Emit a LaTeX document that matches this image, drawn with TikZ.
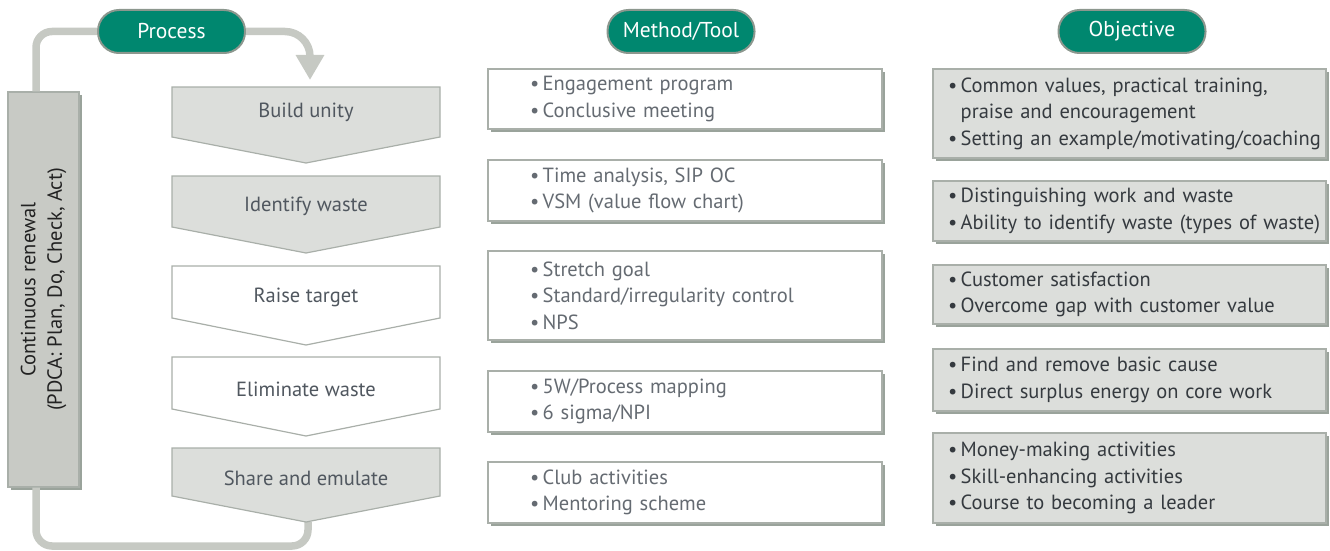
\documentclass[tikz,border=0pt]{standalone}
\usepackage{fontspec}
\setmainfont{PT Sans}
\usetikzlibrary{arrows.meta,shadows}

\definecolor{pillgreen}{HTML}{00876F}
\definecolor{pillrim}{HTML}{8C978E}
\definecolor{loopgray}{HTML}{C6C9C3}
\definecolor{renewgray}{HTML}{C8CAC5}
\definecolor{chevgray}{HTML}{DCDEDB}
\definecolor{chevrim}{HTML}{A9AFA9}
\definecolor{shadowgray}{HTML}{9AA39B}
\definecolor{chevink}{HTML}{50575F}
\definecolor{methink}{HTML}{656B72}
\definecolor{objink}{HTML}{353A3F}
\definecolor{renewink}{HTML}{222222}

\newcommand{\bul}[1]{\mbox{\textbullet\,#1}}
\newcommand{\bulcont}[1]{\mbox{\hphantom{\textbullet\,}#1}}

\tikzset{
  txt/.style={font=\fontsize{20.5}{26.5}\selectfont},
  pill/.style={font=\fontsize{21.5}{26}\selectfont, draw=pillrim, line width=2pt, fill=pillgreen, text=white,
    rounded corners=21pt, minimum width=147pt, minimum height=43pt},
  chev/.style={draw=chevrim, line width=1.2pt},
  chevtext/.style={txt, text=chevink},
  listbox/.style={txt, draw=chevrim, line width=1.2pt, align=left,
    general shadow={fill=shadowgray, shadow xshift=3pt, shadow yshift=-3pt}},
  methbox/.style={listbox, fill=white, text=methink, minimum width=394pt,
    text width=310pt, inner xsep=42pt},
  objbox/.style={listbox, fill=chevgray, text=objink, minimum width=393pt,
    text width=363pt, inner xsep=15pt},
  loopline/.style={draw=loopgray, line width=7.5pt, rounded corners=16pt},
}

\begin{document}
\begin{tikzpicture}[x=1pt, y=-1pt]
  \useasboundingbox (0,0) rectangle (1330,551);

  % headers
  \node[pill] (process) at (171.5,31.5) {Process};
  \node[pill] (method) at (681,31.5) {Method/Tool};
  \node[pill] (objective) at (1132,31.5) {Objective};

  % loop ends
  \coordinate (buildin) at (310,80);
  \coordinate (sharetip) at (308,522);

  % left box
  \node[draw=chevrim, line width=1.2pt, fill=renewgray, minimum width=71pt, minimum height=395pt,
    general shadow={fill=shadowgray, shadow xshift=3pt, shadow yshift=-3pt}] (renew) at (43.5,289.5) {};

  % loop
  \draw[loopline] ([xshift=-7.5pt]renew.north) |- (process.west);
  \draw[loopline, rounded corners=25pt, -{Triangle[length=25pt,width=27pt]}] (process.east) -| (buildin);
  \draw[loopline] ([xshift=-7.5pt]renew.south) |- ([yshift=-24pt]sharetip) -- (sharetip);

  \node[txt, text=renewink, rotate=90, align=center] (renewtext) at (renew.center)
    {Continuous renewal\\(PDCA: Plan, Do, Check, Act)};

  % process steps
  \draw[chev, fill=chevgray] (172,87) -- (440,87) -- (440,137) -- (306,163) -- (172,137) -- cycle;
  \node[chevtext] (build) at (306,112) {Build unity};
  \draw[chev, fill=chevgray] (172,176) -- (440,176) -- (440,227) -- (306,253) -- (172,227) -- cycle;
  \node[chevtext] (identify) at (306,206) {Identify waste};
  \draw[chev, fill=white] (172,266) -- (440,266) -- (440,318) -- (306,345) -- (172,318) -- cycle;
  \node[chevtext] (raise) at (306,297) {Raise target};
  \draw[chev, fill=white] (172,357) -- (440,357) -- (440,409) -- (306,436) -- (172,409) -- cycle;
  \node[chevtext] (eliminate) at (306,389) {Eliminate waste};
  \draw[chev, fill=chevgray] (172,448) -- (440,448) -- (440,496) -- (306,522) -- (172,496) -- cycle;
  \node[chevtext] (share) at (306,478) {Share and emulate};

  % methods
  \node[methbox, minimum height=60pt] (m1) at (685,99)
    {\bul{Engagement program}\\\bul{Conclusive meeting}};
  \node[methbox, minimum height=61pt] (m2) at (685,190.5)
    {\bul{Time analysis, SIP OC}\\\bul{VSM (value flow chart)}};
  \node[methbox, minimum height=89pt] (m3) at (685,295.5)
    {\bul{Stretch goal}\\\bul{Standard/irregularity control}\\\bul{NPS}};
  \node[methbox, minimum height=61pt] (m4) at (685,401.5)
    {\bul{5W/Process mapping}\\\bul{6 sigma/NPI}};
  \node[methbox, minimum height=61pt] (m5) at (685,492.5)
    {\bul{Club activities}\\\bul{Mentoring scheme}};

  % objectives
  \node[objbox, minimum height=89pt] (o1) at (1129.5,113.5)
    {\bul{Common values, practical training,}\\\bulcont{praise and encouragement}\\\bul{Setting an example/motivating/coaching}};
  \node[objbox, minimum height=60pt] (o2) at (1129.5,211)
    {\bul{Distinguishing work and waste}\\\bul{Ability to identify waste (types of waste)}};
  \node[objbox, minimum height=59pt] (o3) at (1129.5,294.5)
    {\bul{Customer satisfaction}\\\bul{Overcome gap with customer value}};
  \node[objbox, minimum height=62pt] (o4) at (1129.5,380)
    {\bul{Find and remove basic cause}\\\bul{Direct surplus energy on core work}};
  \node[objbox, minimum height=90pt] (o5) at (1129.5,478)
    {\bul{Money-making activities}\\\bul{Skill-enhancing activities}\\\bul{Course to becoming a leader}};
\end{tikzpicture}
\end{document}
